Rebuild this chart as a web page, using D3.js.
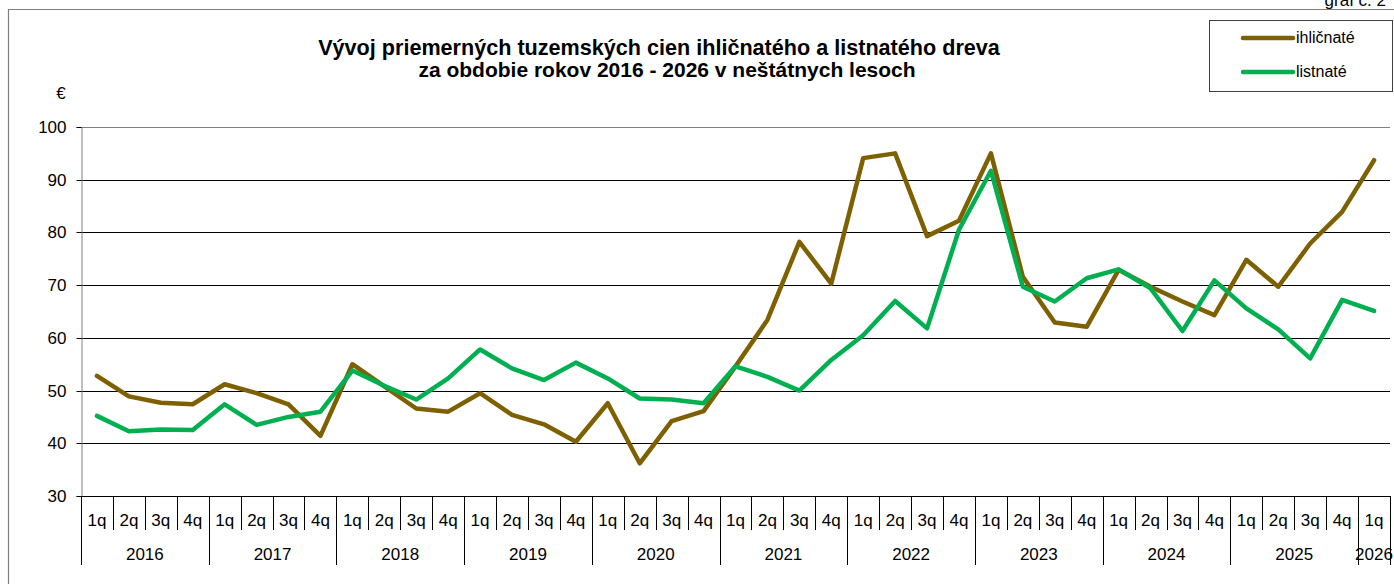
<!DOCTYPE html>
<html>
<head>
<meta charset="utf-8">
<script src="https://cdn.jsdelivr.net/npm/d3@7/dist/d3.min.js"></script>
<style>
  html, body { margin: 0; padding: 0; background: #fff; }
  svg { display: block; font-family: "Liberation Sans", Arial, sans-serif; }
</style>
</head>
<body>
<svg id="chart" width="1394" height="584"></svg>
<script>
// ---- data ----
const years = ["2016","2017","2018","2019","2020","2021","2022","2023","2024","2025","2026"];
const quarters = ["1q","2q","3q","4q"];
const categories = [];
years.forEach(y => quarters.forEach(q => { if (!(y === "2026" && q !== "1q")) categories.push({year: y, q: q}); }));

const ihlicnate = [52.8, 48.9, 47.7, 47.4, 51.2, 49.5, 47.4, 41.4,
                   55.0, 50.8, 46.6, 46.0, 49.5, 45.4, 43.6, 40.3,
                   47.6, 36.2, 44.2, 46.1, 54.6, 63.4, 78.2, 70.3,
                   94.1, 95.0, 79.3, 82.2, 95.0, 71.6, 62.9, 62.1,
                   72.9, 69.7, 66.9, 64.3, 74.8, 69.7, 77.9, 83.9, 93.7];
const listnate  = [45.2, 42.3, 42.6, 42.5, 47.4, 43.5, 45.0, 46.0,
                   53.8, 50.9, 48.3, 52.3, 57.8, 54.2, 52.0, 55.3,
                   52.3, 48.5, 48.3, 47.6, 54.6, 52.6, 50.0, 55.8,
                   60.5, 67.0, 61.8, 80.5, 91.7, 69.7, 66.9, 71.3,
                   73.0, 69.4, 61.3, 70.9, 65.6, 61.6, 56.1, 67.2, 65.1];
const yTicks = [30, 40, 50, 60, 70, 80, 90, 100];
const seriesNames = ["ihličnaté", "listnaté"];
const seriesColors = ["#7F6000", "#00B050"];
const titleLines = ["Vývoj priemerných tuzemských cien ihličnatého a listnatého dreva",
                    "za obdobie rokov 2016 - 2026 v neštátnych lesoch"];

// ---- layout ----
const svg = d3.select("#chart");
const plot = {left: 81, right: 1390, top: 127, bottom: 496};

const x = d3.scaleBand().domain(d3.range(categories.length)).range([plot.left, plot.right]).paddingInner(0).paddingOuter(0);
const y = d3.scaleLinear().domain([30, 100]).range([plot.bottom, plot.top]);

// outer frame
svg.append("path").attr("d", "M8.5,584 L8.5,9.5 L1394,9.5")
  .attr("fill", "none").attr("stroke", "#7f7f7f").attr("stroke-width", 1.2);

// graf č. 2
svg.append("text").attr("x", 1386).attr("y", 6).attr("text-anchor", "end")
  .attr("font-size", 17).attr("fill", "#000").text("graf č. 2");

// title
svg.append("g").selectAll("text").data(titleLines).join("text")
  .attr("x", (d, i) => i === 0 ? 659 : 667).attr("y", (d, i) => 55 + i * 22)
  .attr("text-anchor", "middle").attr("font-weight", "bold")
  .attr("font-size", (d, i) => i === 0 ? 21.6 : 21)
  .text(d => d);

// euro label
svg.append("text").attr("x", 61).attr("y", 99).attr("text-anchor", "middle")
  .attr("font-size", 17).text("€");

// gridlines
svg.append("g").selectAll("line").data(yTicks.filter(t => t > 30)).join("line")
  .attr("x1", plot.left).attr("x2", plot.right)
  .attr("y1", d => Math.round(y(d)) + 0.5).attr("y2", d => Math.round(y(d)) + 0.5)
  .attr("stroke", d => d === 100 ? "#808080" : "#000").attr("stroke-width", 1);

// y axis
const yAxis = d3.axisLeft(y).tickValues(yTicks).tickSize(5).tickPadding(10);
const gy = svg.append("g").attr("transform", `translate(${plot.left + 0.5},0)`).call(yAxis);
gy.select(".domain").attr("stroke", "#808080");
gy.selectAll(".tick line").attr("stroke", "#000");
gy.selectAll(".tick text").attr("font-size", 17).attr("font-family", "Liberation Sans, Arial, sans-serif").attr("fill", "#000");
gy.selectAll(".tick").attr("transform", d => `translate(0,${Math.round(y(d)) + 0.5})`);

// x axis line
svg.append("line").attr("x1", plot.left).attr("x2", plot.right)
  .attr("y1", plot.bottom + 0.5).attr("y2", plot.bottom + 0.5).attr("stroke", "#000");

// separators
const boundaries = d3.range(categories.length + 1);
svg.append("g").selectAll("line").data(boundaries).join("line")
  .attr("x1", i => Math.round(i < categories.length ? x(i) : plot.right) + 0.5)
  .attr("x2", i => Math.round(i < categories.length ? x(i) : plot.right) + 0.5)
  .attr("y1", plot.bottom)
  .attr("y2", i => (i === categories.length || categories[i].q === "1q") ? 565 : 530)
  .attr("stroke", "#000").attr("stroke-width", 1);

// quarter labels
svg.append("g").selectAll("text").data(categories).join("text")
  .attr("x", (d, i) => x(i) + x.bandwidth() / 2).attr("y", 526)
  .attr("text-anchor", "middle").attr("font-size", 17).text(d => d.q);

// year labels
const yearGroups = years.map(yr => {
  const idx = categories.map((c, i) => c.year === yr ? i : -1).filter(i => i >= 0);
  return {year: yr, cx: (x(idx[0]) + x(idx[idx.length - 1]) + x.bandwidth()) / 2};
});
svg.append("g").selectAll("text").data(yearGroups).join("text")
  .attr("x", d => d.cx).attr("y", 560).attr("text-anchor", "middle")
  .attr("font-size", 17).text(d => d.year);

// lines
const line = d3.line().x((d, i) => x(i) + x.bandwidth() / 2).y(d => y(d)).curve(d3.curveLinear);
[ihlicnate, listnate].forEach((s, k) => {
  svg.append("path").datum(s).attr("d", line).attr("fill", "none")
    .attr("stroke", seriesColors[k]).attr("stroke-width", 4.5)
    .attr("stroke-linejoin", "round").attr("stroke-linecap", "round");
});

// legend
const lg = svg.append("g");
lg.append("rect").attr("x", 1209.5).attr("y", 20.5).attr("width", 183).attr("height", 71)
  .attr("fill", "#fff").attr("stroke", "#404040").attr("stroke-width", 1);
seriesNames.forEach((n, k) => {
  const ly = 38 + k * 34;
  lg.append("line").attr("x1", 1243).attr("x2", 1293).attr("y1", ly).attr("y2", ly)
    .attr("stroke", seriesColors[k]).attr("stroke-width", 4.5).attr("stroke-linecap", "round");
  lg.append("text").attr("x", 1296).attr("y", ly + 5).attr("font-size", 16).text(n);
});
</script>
</body>
</html>
